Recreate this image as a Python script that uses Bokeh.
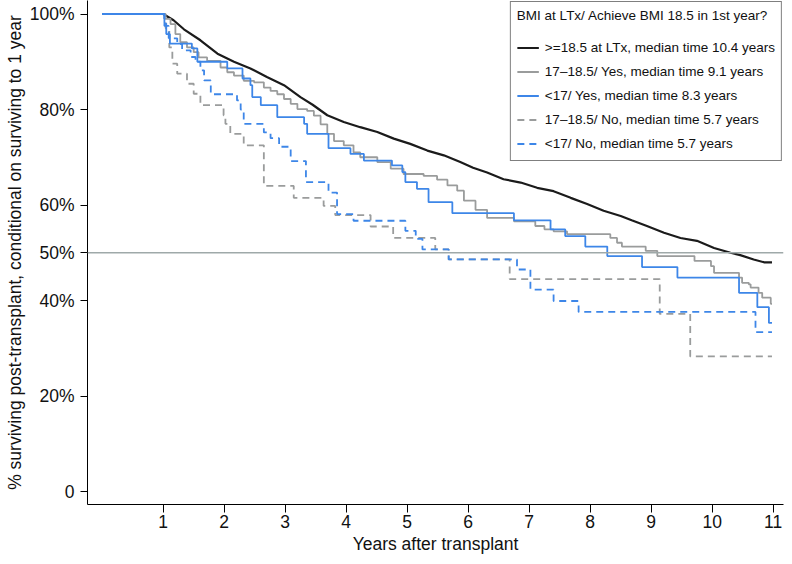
from bokeh.plotting import figure
from bokeh.models import Range1d, FixedTicker, Span, Legend, LegendItem
from bokeh.embed import file_html
from bokeh.resources import INLINE

# ---- tick definitions ----
ytick_values = [0, 20, 40, 50, 60, 80, 100]
ytick_labels = ["0", "20%", "40%", "50%", "60%", "80%", "100%"]
xtick_values = [1, 2, 3, 4, 5, 6, 7, 8, 9, 10, 11]

# ---- series (years after transplant, % surviving) ----
t_ge185 = [0, 1.0, 1.17, 1.34, 1.61, 1.89, 2.16, 2.43, 2.70, 2.98, 3.25, 3.45, 3.69, 3.96, 4.23, 4.51,
           4.78, 5.05, 5.33, 5.60, 5.87, 6.08, 6.31, 6.58, 6.86, 7.13, 7.40, 7.68, 7.95, 8.22, 8.50,
           8.68, 8.93, 9.21, 9.48, 9.75, 10.03, 10.30, 10.46, 10.68, 10.85, 10.98]
s_ge185 = [100, 100, 98.7, 96.8, 94.5, 91.7, 90.0, 88.6, 86.8, 85.1, 82.6, 81.0, 78.8, 77.4, 76.3, 75.3,
           73.9, 72.8, 71.4, 70.4, 69.0, 67.8, 66.8, 65.4, 64.7, 63.6, 62.9, 61.5, 60.2, 58.8, 57.7,
           56.8, 55.6, 54.2, 53.1, 52.5, 51.0, 50.0, 49.5, 48.6, 48.0, 48.0]

t_1718_yes = [0, 1.02, 1.12, 1.20, 1.28, 1.39, 1.50, 1.58, 1.72, 1.94, 2.05, 2.16, 2.32, 2.49, 2.65, 2.76,
              2.87, 2.98, 3.09, 3.20, 3.36, 3.47, 3.58, 3.69, 3.80, 3.96, 4.12, 4.23, 4.51, 4.73, 4.94,
              5.27, 5.49, 5.66, 5.82, 5.93, 6.12, 6.31, 6.75, 7.10, 7.25, 7.40, 7.62, 8.33, 8.44, 8.52,
              8.91, 9.10, 9.71, 9.98, 10.03, 10.44, 10.49, 10.60, 10.63, 10.76, 10.82, 10.96, 10.98]
s_1718_yes = [100, 99.0, 97.9, 95.8, 94.1, 93.0, 92.0, 90.9, 90.2, 88.8, 87.8, 87.1, 86.0, 85.7, 84.6, 83.9,
              83.2, 82.2, 81.2, 80.1, 79.7, 78.7, 76.9, 74.9, 73.4, 72.5, 71.0, 70.0, 69.0, 67.6, 66.5,
              66.1, 65.3, 64.1, 63.0, 60.9, 59.0, 57.3, 56.6, 55.6, 54.9, 54.5, 53.9, 53.1, 52.1, 51.3,
              50.4, 49.3, 48.3, 47.2, 45.8, 44.8, 43.7, 43.4, 42.7, 41.6, 40.6, 39.3, 39.3]

t_lt17_yes = [0, 1.02, 1.05, 1.11, 1.47, 1.56, 2.05, 2.30, 2.43, 2.46, 2.60, 2.87, 3.31, 3.36, 3.71, 4.07,
              4.29, 4.75, 4.92, 4.97, 5.16, 5.35, 5.74, 6.75, 7.35, 7.59, 7.92, 8.28, 8.85, 9.43, 10.44,
              10.74, 10.93, 10.98]
s_lt17_yes = [100, 98.0, 95.8, 93.8, 92.8, 90.0, 88.6, 86.5, 85.1, 82.6, 80.9, 78.4, 77.0, 74.9, 71.9, 70.7,
              69.3, 68.3, 66.9, 64.8, 63.4, 60.6, 58.3, 56.8, 54.9, 53.5, 51.3, 49.3, 47.0, 44.8, 41.6,
              38.6, 35.3, 35.3]

t_1718_no = [0, 1.04, 1.10, 1.15, 1.23, 1.39, 1.50, 1.61, 1.99, 2.02, 2.10, 2.32, 2.65, 3.14, 3.63, 3.82,
             4.40, 4.77, 5.46, 5.68, 6.68, 9.14, 9.64, 10.98]
s_1718_no = [100, 97.0, 93.0, 89.6, 87.5, 85.4, 83.3, 80.9, 78.8, 77.0, 74.9, 72.5, 64.0, 61.5, 59.8, 57.9,
             55.5, 53.1, 50.7, 48.6, 44.5, 37.2, 28.3, 28.3]

t_lt17_no = [0, 1.02, 1.09, 1.23, 1.31, 1.45, 1.53, 1.61, 1.67, 1.78, 2.21, 2.27, 2.32, 2.65, 2.76, 2.90,
             3.09, 3.34, 3.71, 3.85, 4.12, 4.97, 5.14, 5.25, 5.68, 6.80, 7.02, 7.40, 7.81, 10.71, 10.98]
s_lt17_no = [100, 97.5, 94.9, 93.7, 92.4, 91.0, 90.0, 88.2, 86.1, 83.2, 81.9, 80.0, 77.0, 75.2, 74.0, 72.2,
             69.2, 64.8, 62.6, 58.1, 56.7, 54.6, 52.9, 50.7, 48.6, 46.5, 42.3, 39.9, 37.6, 33.4, 33.4]

legend_title = "BMI at LTx/ Achieve BMI 18.5 in 1st year?"
labels = [">=18.5 at LTx, median time 10.4 years",
          "17\u201318.5/ Yes, median time 9.1 years",
          "<17/ Yes, median time 8.3 years",
          "17\u201318.5/ No, median time 5.7 years",
          "<17/ No, median time 5.7 years"]

FONT = "Liberation Sans"
BLACK = "#1b1b1b"
GREY = "#9a9c9c"
BLUE = "#3d86e8"

p = figure(width=784, height=556, output_backend="svg", toolbar_location=None,
           x_range=Range1d(-0.241, 11.169), y_range=Range1d(-2.72, 102.83),
           min_border_left=87, min_border_right=1, min_border_top=0, min_border_bottom=52)
p.outline_line_color = None
p.xgrid.grid_line_color = None
p.ygrid.grid_line_color = None
p.background_fill_color = "white"
p.border_fill_color = "white"

# reference line at 50%
p.add_layout(Span(location=50, dimension="width", line_color="#9fa9a9", line_width=1.3))

r_black = p.line(t_ge185, s_ge185, line_color=BLACK, line_width=2.2)
r_grey = p.step(t_1718_yes, s_1718_yes, mode="after", line_color=GREY, line_width=1.8)
r_greyd = p.step(t_1718_no, s_1718_no, mode="after", line_color=GREY, line_width=1.8, line_dash="7 5")
r_blued = p.step(t_lt17_no, s_lt17_no, mode="after", line_color=BLUE, line_width=1.8, line_dash="7 5")
r_blue = p.step(t_lt17_yes, s_lt17_yes, mode="after", line_color=BLUE, line_width=1.8)

# axes
p.yaxis.ticker = FixedTicker(ticks=ytick_values)
p.yaxis.major_label_overrides = {v: l for v, l in zip(ytick_values, ytick_labels)}
p.xaxis.ticker = FixedTicker(ticks=xtick_values)
for ax in (p.xaxis[0], p.yaxis[0]):
    ax.axis_line_color = "black"
    ax.axis_line_width = 1
    ax.major_tick_line_color = "black"
    ax.major_tick_in = 0
    ax.major_tick_out = 7
    ax.minor_tick_line_color = None
    ax.major_label_text_font = FONT
    ax.major_label_text_font_size = "17.5px"
    ax.major_label_text_color = "#111111"
    ax.axis_label_text_font = FONT
    ax.axis_label_text_font_size = "17.5px"
    ax.axis_label_text_font_style = "normal"
    ax.axis_label_text_color = "#111111"
p.xaxis.major_tick_out = 8
p.yaxis.major_label_standoff = 6
p.yaxis.axis_label_standoff = 2
p.xaxis.major_label_standoff = 2
p.xaxis.axis_label_standoff = 3
p.xaxis.axis_label = "Years after transplant"
p.yaxis.axis_label = "% surviving post-transplant, conditional on surviving to 1 year"

legend = Legend(items=[LegendItem(label=labels[0], renderers=[r_black]),
                       LegendItem(label=labels[1], renderers=[r_grey]),
                       LegendItem(label=labels[2], renderers=[r_blue]),
                       LegendItem(label=labels[3], renderers=[r_greyd]),
                       LegendItem(label=labels[4], renderers=[r_blued])],
                location="top_right", title=legend_title)
legend.margin = 1
legend.padding = 6
legend.spacing = 3
legend.glyph_width = 22
legend.glyph_height = 21
legend.label_standoff = 6
legend.label_text_font = FONT
legend.label_text_font_size = "13.5px"
legend.label_text_color = "#111111"
legend.title_text_font = FONT
legend.title_text_font_size = "13.5px"
legend.title_text_font_style = "normal"
legend.title_text_color = "#111111"
legend.title_standoff = 14
legend.border_line_color = "black"
legend.border_line_width = 1
legend.background_fill_color = "white"
legend.background_fill_alpha = 1
p.add_layout(legend)

open("out.html", "w").write(file_html(p, INLINE))
